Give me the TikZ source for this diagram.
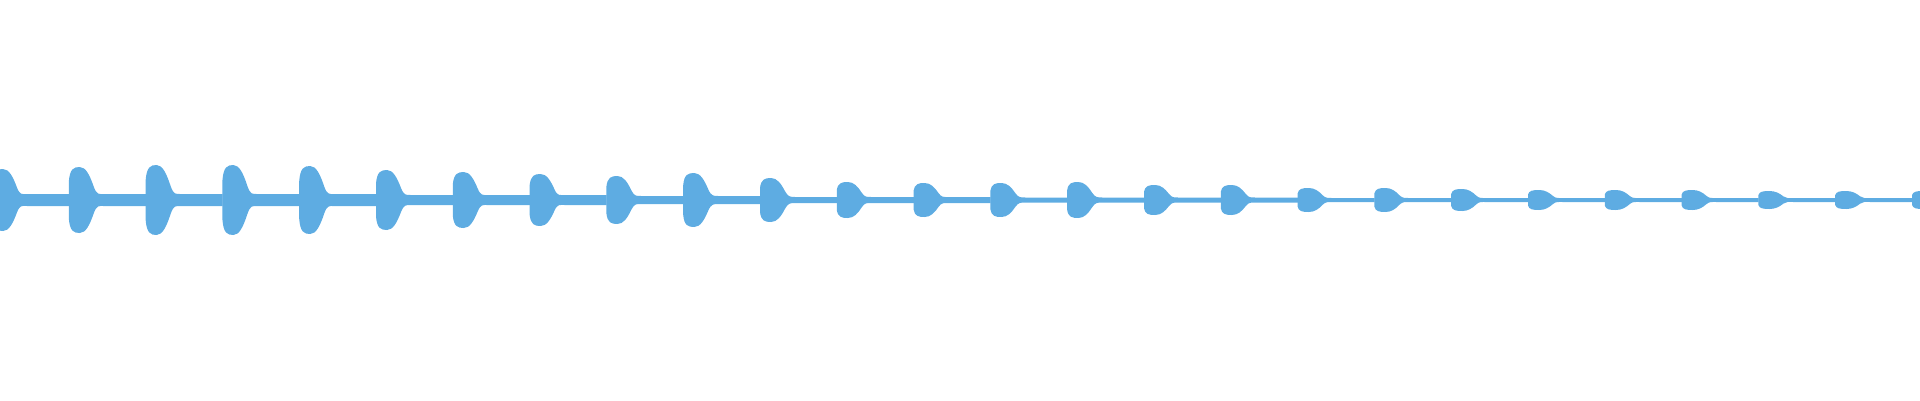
\documentclass[tikz,border=0pt]{standalone}
\definecolor{wave}{RGB}{94,172,226}
\tikzset{burst/.style={fill=wave,draw=none}}
\begin{document}
\begin{tikzpicture}[x=1pt,y=-1pt]
  \useasboundingbox (0,0) rectangle (1920,400);
  \begin{scope}
  \clip (0,0) rectangle (1920,400);
  % bursts: index / half height / baseline half width
  \foreach \i/\h/\t in {0/31/6,1/33/6,2/35/6,3/35/6,4/34/6,5/30/5,6/28/5,7/26/5,8/24/4,9/27/4,
                        10/22/3,11/18/3,12/17/3,13/17/2.5,14/18/2.5,15/15/2.5,16/15/2.5,17/12/2,
                        18/12/2,19/11/2,20/10/2,21/10/2,22/10/2,23/9/2,24/9/2,25/9/2}{
    \pgfmathsetmacro\s{-8+76.8*\i}
    \pgfmathsetmacro\up{200-\h}
    \pgfmathsetmacro\dn{200+\h}
    \fill[burst] (\s,200-\t) -- (\s,200-0.55*\h)
      .. controls (\s+1,200-0.95*\h) and (\s+5,\up) .. (\s+11,\up)
      .. controls (\s+17,\up) and (\s+21,200-0.75*\h) .. (\s+25,200-0.4*\h)
      .. controls (\s+28,200-0.15*\h) and (\s+30,200-\t) .. (\s+35,200-\t)
      -- (\s+77,200-\t) -- (\s+77,200+\t) -- (\s+35,200+\t)
      .. controls (\s+30,200+\t) and (\s+28,200+0.15*\h) .. (\s+25,200+0.4*\h)
      .. controls (\s+21,200+0.75*\h) and (\s+17,\dn) .. (\s+11,\dn)
      .. controls (\s+5,\dn) and (\s+1,200+0.95*\h) .. (\s,200+0.55*\h) -- cycle;
  }
  \end{scope}
\end{tikzpicture}
\end{document}
